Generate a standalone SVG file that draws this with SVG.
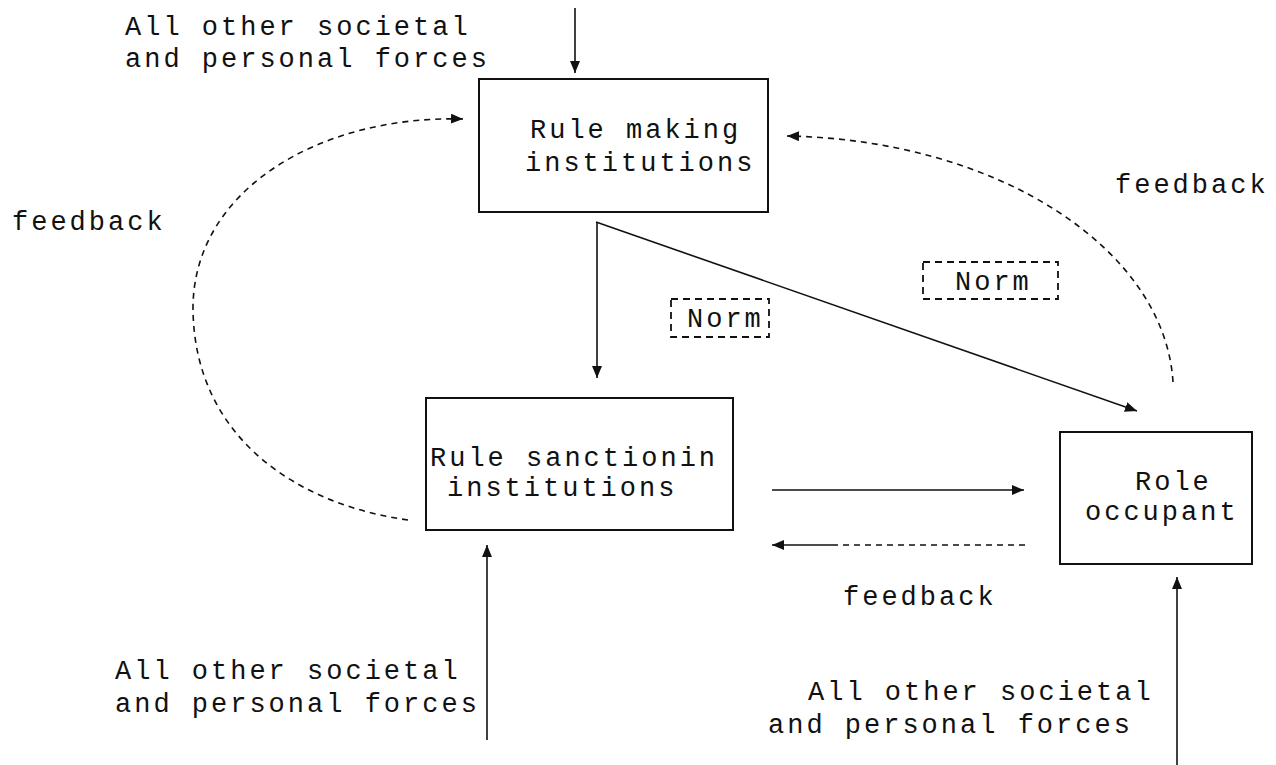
<svg xmlns="http://www.w3.org/2000/svg" width="1276" height="765" viewBox="0 0 1276 765">
<style>
  text { font-family: "Liberation Mono", "Courier New", monospace; font-size: 27px; letter-spacing: 3px; fill: #111; }
  .box { fill: none; stroke: #111; stroke-width: 2; }
  .norm { fill: none; stroke: #111; stroke-width: 1.8; stroke-dasharray: 7 5; }
  .line { fill: none; stroke: #111; stroke-width: 1.6; }
  .dash { fill: none; stroke: #111; stroke-width: 1.6; stroke-dasharray: 6 5; }
</style>
<defs>
  <marker id="arr" viewBox="0 0 12 10" refX="12" refY="5" markerWidth="12" markerHeight="10" markerUnits="userSpaceOnUse" orient="auto">
    <path d="M0,0 L12,5 L0,10 Z" fill="#111"/>
  </marker>
</defs>
<rect width="1276" height="765" fill="#fff"/>

<g id="labels">
  <text x="125" y="35">All other societal</text>
  <text x="125" y="67">and personal forces</text>
  <text x="12" y="230">feedback</text>
  <text x="1115" y="193">feedback</text>
  <text x="843" y="605">feedback</text>
  <text x="115" y="679">All other societal</text>
  <text x="115" y="712">and personal forces</text>
  <text x="808" y="700">All other societal</text>
  <text x="768" y="733">and personal forces</text>
</g>

<g id="node-rule-making">
  <rect class="box" x="479" y="79" width="289" height="133"/>
  <text x="530" y="138">Rule making</text>
  <text x="525" y="171">institutions</text>
</g>

<g id="node-rule-sanctioning">
  <rect class="box" x="426" y="398" width="307" height="132"/>
  <text x="430" y="466">Rule sanctionin</text>
  <text x="447" y="496">institutions</text>
</g>

<g id="node-role-occupant">
  <rect class="box" x="1060" y="432" width="192" height="132"/>
  <text x="1135" y="490">Role</text>
  <text x="1085" y="520">occupant</text>
</g>

<g id="norm-left">
  <rect class="norm" x="671" y="299" width="98" height="38"/>
  <text x="687" y="327">Norm</text>
</g>

<g id="norm-right">
  <rect class="norm" x="923" y="262" width="135" height="37"/>
  <text x="955" y="290">Norm</text>
</g>

<g id="connectors">
  <path class="line" d="M575,8 V73" marker-end="url(#arr)"/>
  <path class="line" d="M597,222 V378" marker-end="url(#arr)"/>
  <path class="line" d="M596,222 L1137,411" marker-end="url(#arr)"/>
  <path class="line" d="M772,490 H1024" marker-end="url(#arr)"/>
  <path class="dash" d="M1025,545 H832"/>
  <path class="line" d="M832,545 H772" marker-end="url(#arr)"/>
  <path class="line" d="M487,740 V545" marker-end="url(#arr)"/>
  <path class="line" d="M1177,765 V577" marker-end="url(#arr)"/>
  <path class="dash" d="M408,520 C300,505 195,440 193,310 C192,190 320,115 463,119" marker-end="url(#arr)"/>
  <path class="dash" d="M1173,382 C1165,250 1000,140 787,136" marker-end="url(#arr)"/>
</g>
</svg>
